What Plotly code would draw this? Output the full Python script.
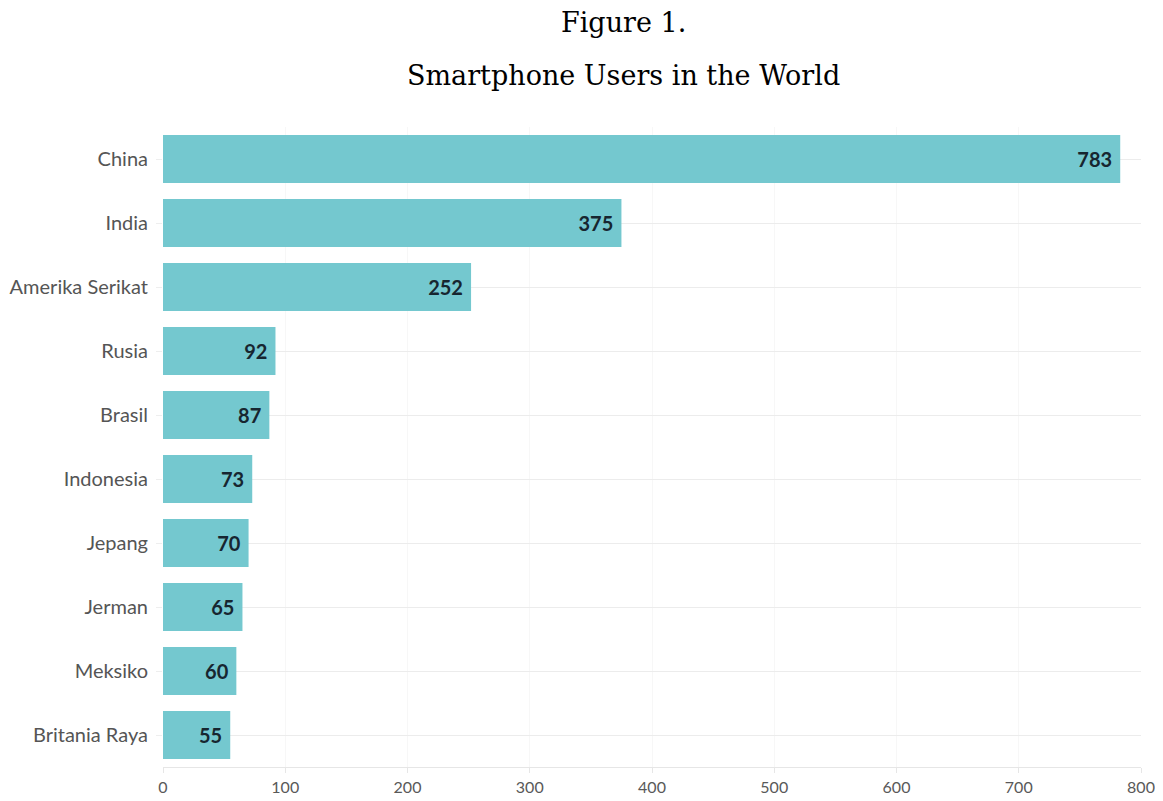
import plotly.graph_objects as go

countries = ["China", "India", "Amerika Serikat", "Rusia", "Brasil", "Indonesia",
             "Jepang", "Jerman", "Meksiko", "Britania Raya"]
users = [783, 375, 252, 92, 87, 73, 70, 65, 60, 55]
x_ticks = [0, 100, 200, 300, 400, 500, 600, 700, 800]
title_line1 = "Figure 1."
title_line2 = "Smartphone Users in the World"

fig = go.Figure(go.Bar(
    x=users,
    y=countries,
    orientation="h",
    marker=dict(color="#74c8cf", line=dict(width=0)),
    text=[f"<b>{v}</b>\u00a0" for v in users],
    textposition="inside",
    insidetextanchor="end",
    textangle=0,
    constraintext="none",
    textfont=dict(family="Lato", size=20, color="#172630"),
    hoverinfo="x+y",
))

fig.update_layout(
    width=1155, height=793,
    margin=dict(l=155, r=22, t=119, b=34, autoexpand=False),
    paper_bgcolor="white",
    plot_bgcolor="white",
    bargap=0.25,
    showlegend=False,
    font=dict(family="Lato", color="#555555"),
    annotations=[
        dict(text=title_line1, xref="paper", yref="paper", x=0.471, y=1.164,
             xanchor="center", yanchor="middle", showarrow=False,
             font=dict(family="DejaVu Serif", size=27, color="#000000")),
        dict(text=title_line2, xref="paper", yref="paper", x=0.471, y=1.081,
             xanchor="center", yanchor="middle", showarrow=False,
             font=dict(family="DejaVu Serif", size=27, color="#000000")),
    ],
)

fig.update_xaxes(
    range=[0, 800],
    tickvals=x_ticks,
    automargin=False,
    showgrid=True, gridcolor="#f7f7f7", gridwidth=1,
    zeroline=False,
    showline=True, linecolor="#e6e6e6", linewidth=1,
    ticks="outside", ticklen=5, tickcolor="#e6e6e6",
    tickfont=dict(family="Lato", size=16, color="#595959"),
    ticklabelstandoff=1,
    fixedrange=True,
)
fig.update_yaxes(
    categoryorder="array", categoryarray=countries[::-1],
    automargin=False,
    showgrid=True, gridcolor="#ececec", gridwidth=1,
    zeroline=False,
    showline=False,
    ticks="outside", ticklen=6, tickcolor="#eeeeee",
    tickfont=dict(family="Lato", size=20, color="#555555"),
    ticklabelstandoff=4,
    fixedrange=True,
)

fig.write_html("out.html")
